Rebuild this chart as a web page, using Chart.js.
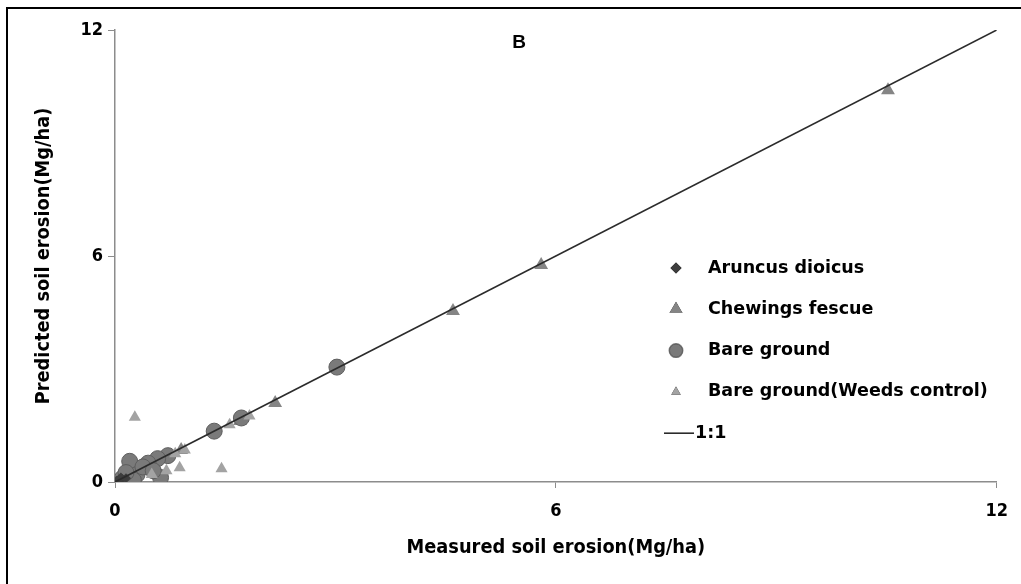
<!DOCTYPE html>
<html>
<head>
<meta charset="utf-8">
<script src="https://cdn.jsdelivr.net/npm/chart.js@4.4.1/dist/chart.umd.min.js"></script>
<style>
  html, body { margin: 0; padding: 0; background: #fff; }
  #wrap { width: 1021px; height: 584px; }
</style>
</head>
<body>
<div id="wrap"><canvas id="erosionChart" width="1021" height="584"></canvas></div>
<script>
const aruncusX = [0.02, 0.05, 0.10, 0.08, 0.15, 0.03];
const aruncusY = [0.03, 0.06, 0.08, 0.12, 0.10, 0.01];

const fescueX = [10.52, 5.80, 4.60, 2.18, 1.70, 0.90, 0.45, 0.30];
const fescueY = [10.40, 5.76, 4.54, 2.10, 1.62, 0.85, 0.35, 0.25];

const bareX = [3.02, 1.72, 1.35, 0.72, 0.58, 0.45, 0.20, 0.30, 0.62, 0.10, 0.25, 0.38, 0.52, 0.15];
const bareY = [3.05, 1.70, 1.35, 0.70, 0.62, 0.50, 0.55, 0.20, 0.12, 0.10, 0.05, 0.40, 0.30, 0.25];

const weedsX = [0.27, 1.45, 0.88, 1.83, 0.95, 0.50, 0.70, 0.82, 1.56];
const weedsY = [1.72, 0.35, 0.38, 1.75, 0.85, 0.20, 0.30, 0.75, 1.52];

const lineX = [0, 12];
const lineY = [0, 12];

const axisTicks = [0, 6, 12];

const toPoints = (xs, ys) => xs.map((x, i) => ({ x: x, y: ys[i] }));

// Legende, Rahmen und Buchstabe selbst zeichnen
const extrasPlugin = {
  id: "extras",
  afterDraw(chart) {
    const ctx = chart.ctx;
    ctx.save();

    // Rahmen (nur links und oben sichtbar)
    ctx.strokeStyle = "#000";
    ctx.lineWidth = 2;
    ctx.beginPath();
    ctx.moveTo(7, 584);
    ctx.lineTo(7, 8);
    ctx.lineTo(1021, 8);
    ctx.stroke();

    // Panel-Buchstabe
    ctx.fillStyle = "#000";
    ctx.font = "bold 19px 'Liberation Sans', Arial, sans-serif";
    ctx.textAlign = "center";
    ctx.textBaseline = "middle";
    ctx.fillText("B", 519, 43);

    // Legende: Punkte zuerst, Linie zuletzt
    const sets = chart.data.datasets;
    const items = sets.filter(d => !d.showLine).concat(sets.filter(d => d.showLine));
    const keyX = 676;
    let keyY = 268;
    ctx.font = "bold 17.5px 'DejaVu Sans', sans-serif";
    ctx.textAlign = "left";
    items.forEach(d => {
      if (d.showLine) {
        ctx.strokeStyle = d.borderColor;
        ctx.lineWidth = d.borderWidth;
        ctx.beginPath();
        ctx.moveTo(664, keyY);
        ctx.lineTo(694, keyY);
        ctx.stroke();
        ctx.fillStyle = "#000";
        ctx.fillText(d.label, 695, keyY);
      } else {
        Chart.helpers.drawPoint(ctx, {
          pointStyle: d.pointStyle,
          radius: d.legendRadius,
          rotation: 0,
          borderWidth: d.borderWidth || 0
        }, keyX, keyY);
        ctx.fillStyle = d.backgroundColor;
        ctx.strokeStyle = d.borderColor || d.backgroundColor;
        ctx.lineWidth = d.borderWidth || 0;
        ctx.fill();
        if (d.borderWidth) ctx.stroke();
        ctx.fillStyle = "#000";
        ctx.fillText(d.label, 708, keyY);
      }
      keyY += 41.3;
    });

    ctx.restore();
  }
};

const tickFont = { family: "'DejaVu Sans Condensed', 'DejaVu Sans', sans-serif", size: 18, weight: "bold" };
const titleFont = { family: "'DejaVu Sans Condensed', 'DejaVu Sans', sans-serif", size: 19.8, weight: "bold" };

new Chart(document.getElementById("erosionChart"), {
  type: "scatter",
  data: {
    datasets: [
      {
        label: "1:1",
        data: toPoints(lineX, lineY),
        showLine: true,
        borderColor: "#2b2b2b",
        borderWidth: 1.6,
        pointRadius: 0,
        order: 0
      },
      {
        label: "Aruncus dioicus",
        data: toPoints(aruncusX, aruncusY),
        pointStyle: "rectRot",
        pointRadius: 5,
        legendRadius: 5.5,
        backgroundColor: "#3d3d3d",
        borderColor: "#3d3d3d",
        borderWidth: 0,
        order: 1
      },
      {
        label: "Chewings fescue",
        data: toPoints(fescueX, fescueY),
        pointStyle: "triangle",
        pointRadius: 8,
        legendRadius: 7.5,
        backgroundColor: "#858585",
        borderColor: "#858585",
        borderWidth: 0,
        order: 4
      },
      {
        label: "Bare ground",
        data: toPoints(bareX, bareY),
        pointStyle: "circle",
        pointRadius: 8,
        legendRadius: 6.5,
        backgroundColor: "#7a7a7a",
        borderColor: "#5e5e5e",
        borderWidth: 1,
        order: 3
      },
      {
        label: "Bare ground(Weeds control)",
        data: toPoints(weedsX, weedsY),
        pointStyle: "triangle",
        pointRadius: 7,
        legendRadius: 5.5,
        backgroundColor: "#a3a3a3",
        borderColor: "#a3a3a3",
        borderWidth: 0,
        order: 2
      }
    ]
  },
  options: {
    responsive: false,
    animation: false,
    layout: { padding: { top: 30, right: 21, left: 0, bottom: 0 } },
    plugins: {
      legend: { display: false },
      tooltip: { enabled: false }
    },
    scales: {
      x: {
        type: "linear",
        min: 0,
        max: 12,
        afterBuildTicks: s => { s.ticks = axisTicks.map(v => ({ value: v })); },
        afterFit: s => { s.height = 102; },
        border: { color: "#8c8c8c", width: 1.5 },
        grid: { drawOnChartArea: false, color: "#8c8c8c", tickLength: 6 },
        ticks: { color: "#000", font: tickFont, padding: 13, maxRotation: 0 },
        title: {
          display: true,
          text: "Measured soil erosion(Mg/ha)",
          color: "#000",
          font: titleFont,
          padding: { top: 0, bottom: 24 }
        }
      },
      y: {
        type: "linear",
        min: 0,
        max: 12,
        afterBuildTicks: s => { s.ticks = axisTicks.map(v => ({ value: v })); },
        afterFit: s => { s.width = 115; },
        border: { color: "#8c8c8c", width: 1.5 },
        grid: { drawOnChartArea: false, color: "#8c8c8c", tickLength: 7 },
        ticks: { color: "#000", font: tickFont, padding: 5 },
        title: {
          display: true,
          text: "Predicted soil erosion(Mg/ha)",
          color: "#000",
          font: titleFont,
          padding: { top: 32, bottom: 0 }
        }
      }
    }
  },
  plugins: [extrasPlugin]
});
</script>
</body>
</html>
